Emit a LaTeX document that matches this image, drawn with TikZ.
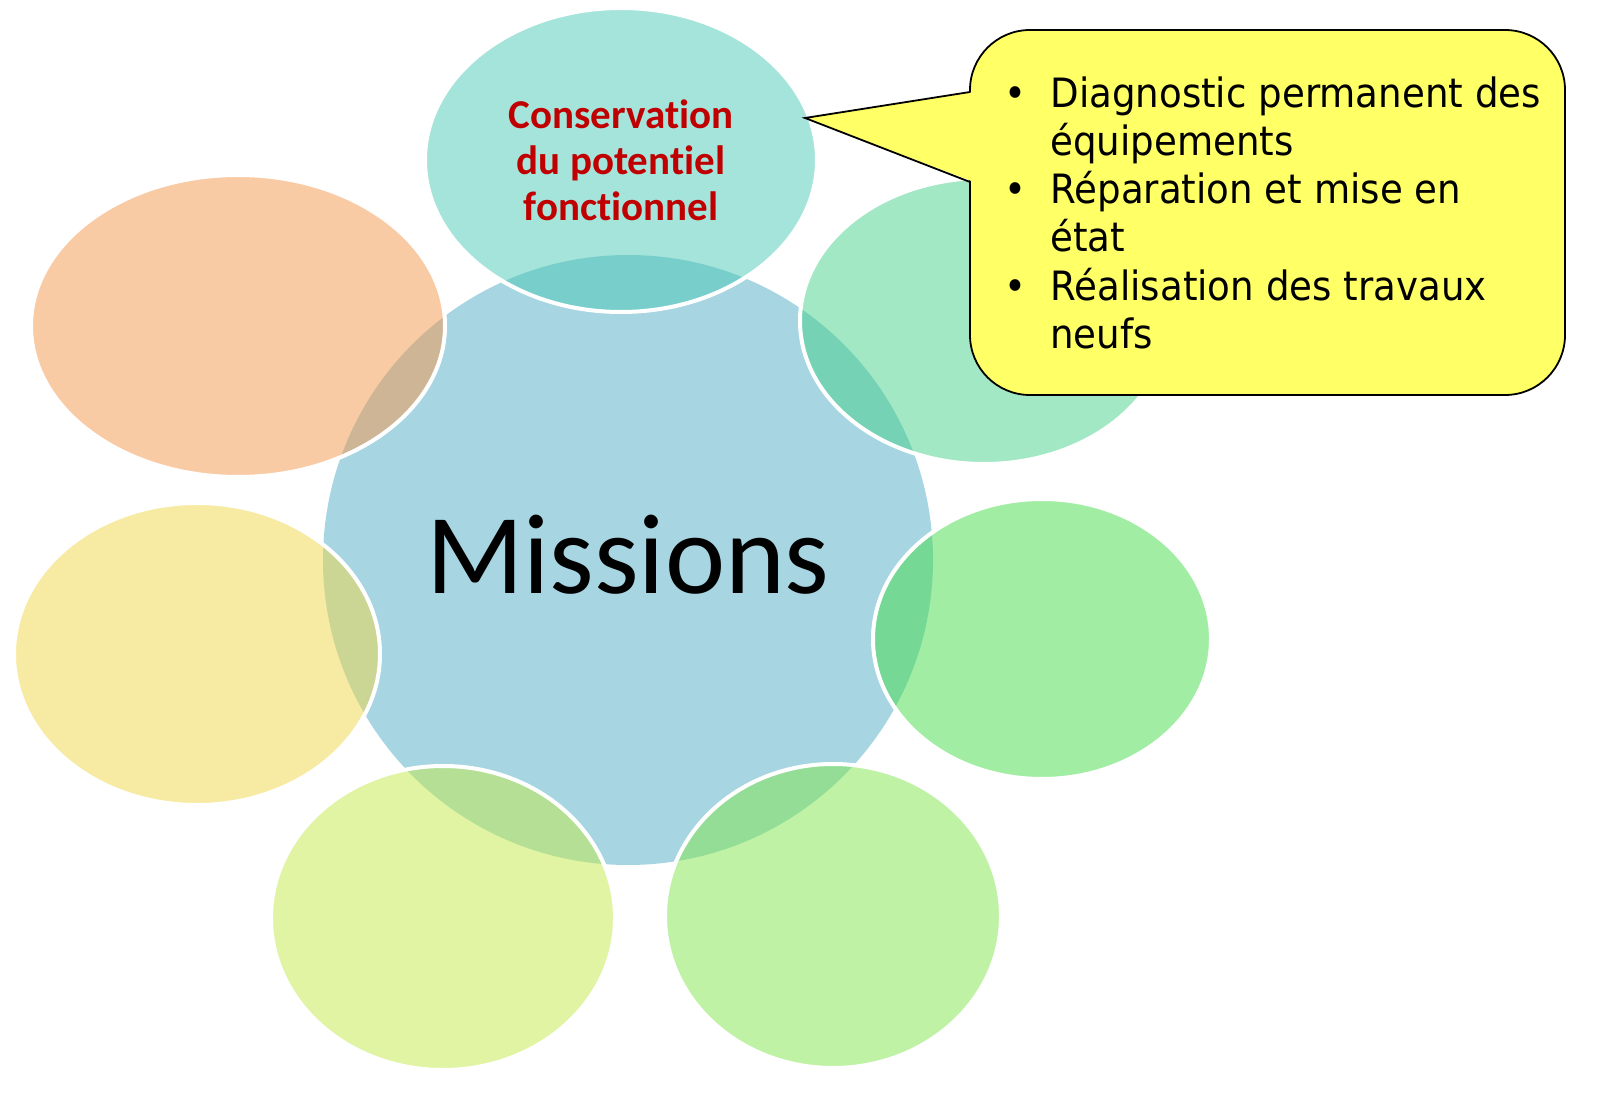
\documentclass[tikz,border=0pt]{standalone}
\usepackage{fontspec}
\setmainfont[Ligatures=NoCommon]{Carlito}
\newfontfamily\calloutfont[FakeStretch=0.92]{DejaVu Sans}
\usetikzlibrary{shapes.geometric}
\definecolor{centerblue}{RGB}{167,213,226}
\definecolor{cteal}{RGB}{75,201,181}
\definecolor{cgreenA}{RGB}{71,209,137}
\definecolor{cgreenB}{RGB}{69,219,73}
\definecolor{cgreenC}{RGB}{129,229,77}
\definecolor{clime}{RGB}{193,233,73}
\definecolor{cyel}{RGB}{239,213,71}
\definecolor{corange}{RGB}{243,151,75}
\definecolor{calloutyellow}{RGB}{255,255,102}
\definecolor{darkred}{RGB}{192,0,0}
\tikzset{
  sat/.style={ellipse, draw=white, line width=2pt, fill opacity=0.5, text opacity=1, inner sep=0pt},
  hub/.style={ellipse, fill=centerblue, inner sep=0pt},
  calloutbox/.style={draw=black, line width=0.9pt, fill=calloutyellow, rounded corners=30pt, inner sep=0pt},
  calltext/.style={anchor=base west, inner sep=0pt, font=\calloutfont\fontsize{20.2}{24}\selectfont},
}
\begin{document}
\begin{tikzpicture}[x=0.5pt,y=-0.5pt]
\useasboundingbox (0,0) rectangle (1606,1095);
% hub
\node[hub, minimum width=305pt, minimum height=305pt] (hub) at (628,560) {};
\node[anchor=base, inner sep=0pt, font=\fontsize{57}{60}\selectfont] (missions) at (628,594) {Missions};
% satellites
\node[sat, fill=cteal, minimum width=196pt, minimum height=152pt, align=center,
      font=\bfseries\fontsize{20.5}{23}\selectfont, text=darkred] (top) at (621,160)
      {Conservation\\du potentiel\\fonctionnel};
\node[sat, fill=cgreenA, minimum width=184pt, minimum height=143pt] (ur) at (984,321) {};
\node[sat, fill=cgreenB, minimum width=169pt, minimum height=140pt] (r) at (1042,639) {};
\node[sat, fill=cgreenC, minimum width=168pt, minimum height=152pt] (br) at (833,916) {};
\node[sat, fill=clime, minimum width=172pt, minimum height=152pt] (bl) at (443,918) {};
\node[sat, fill=cyel, minimum width=183pt, minimum height=151pt] (l) at (197,654) {};
\node[sat, fill=corange, minimum width=207pt, minimum height=151pt] (ul) at (238,326) {};
% callout
\node[calloutbox, minimum width=297.5pt, minimum height=182.5pt] (cb) at (1267.5,212.5) {};
\coordinate (tip) at (805,118);
\coordinate (pa) at (970,92);
\coordinate (pb) at (970,182);
\fill[calloutyellow] ([xshift=2pt]pa) -- (tip) -- ([xshift=2pt]pb) -- cycle;
\draw[line width=0.9pt, line join=miter] (pa) -- (tip) -- (pb);
% callout text
\node[calltext] (b1) at (1004,108) {•};
\node[calltext] (t1) at (1050,108) {Diagnostic permanent des};
\node[calltext] (t2) at (1050,156) {équipements};
\node[calltext] (b2) at (1004,204) {•};
\node[calltext] (t3) at (1050,204) {Réparation et mise en};
\node[calltext] (t4) at (1050,252) {état};
\node[calltext] (b3) at (1004,301) {•};
\node[calltext] (t5) at (1050,301) {Réalisation des travaux};
\node[calltext] (t6) at (1050,349) {neufs};
\end{tikzpicture}
\end{document}
